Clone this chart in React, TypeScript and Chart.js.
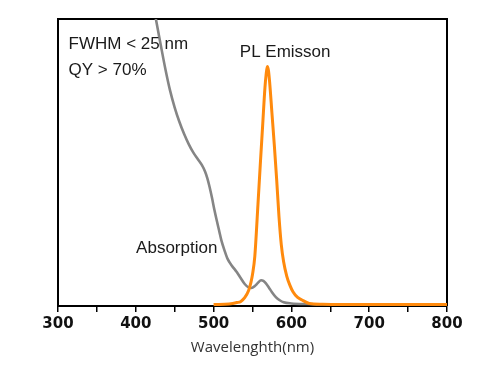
import React, { useEffect, useRef } from "react";
import { Chart, registerables } from "chart.js";

Chart.register(...registerables);

// Absorption spectrum (wavelength nm, relative intensity)
const absWavelength = [420, 426, 432, 438, 444, 450, 456, 462, 468, 474, 480, 485, 489, 492, 495, 498, 501, 504, 507, 510, 514, 518, 523, 530, 535, 540, 545, 549, 553, 557, 561, 564, 567, 571, 575, 580, 585, 590, 600, 620, 650, 700, 800];
const absValues = [108, 99.7, 91, 82.5, 75, 69, 64, 59.8, 56.2, 53.2, 50.8, 48.8, 46.6, 44.2, 41, 37.3, 33.2, 29.5, 26, 22.5, 19, 16, 13.8, 11.3, 9.2, 7.2, 6, 5.8, 6.5, 7.6, 8.5, 8.3, 7.5, 6, 4.3, 2.6, 1.5, 0.8, 0.4, 0.2, 0.1, 0, 0];

// PL emission spectrum
const plWavelength = [500, 520, 530, 535, 540, 545, 548, 550, 553, 557, 560, 563, 566, 567.5, 569, 570.5, 572, 575, 578, 581, 584, 587, 590, 594, 598, 602, 608, 615, 623, 640, 660, 800];
const plValues = [0, 0.2, 0.7, 1.1, 2.4, 4.9, 7.8, 10.5, 17, 35, 49, 62.5, 76, 80.5, 83.4, 82, 78, 67, 56, 44, 31, 21, 15, 10, 6.8, 4.5, 2.5, 1.4, 0.4, 0.1, 0, 0];

const xTicks = [300, 400, 500, 600, 700, 800];
const axisTitle = "Wavelenghth(nm)";

const noteTexts = ["FWHM < 25 nm", "QY > 70%", "PL Emisson", "Absorption"];
const noteX = [313.6, 313.6, 533.7, 400.4];
const noteY = [89.5, 80.3, 86.6, 18.1];

const framePlugin = {
  id: "frameAndNotes",
  beforeDatasetsDraw(chart: any) {
    const { ctx, chartArea } = chart;
    ctx.save();
    ctx.strokeStyle = "#000";
    ctx.lineWidth = 2;
    ctx.beginPath();
    ctx.moveTo(chartArea.left, chartArea.bottom);
    ctx.lineTo(chartArea.left, chartArea.top);
    ctx.lineTo(chartArea.right, chartArea.top);
    ctx.lineTo(chartArea.right, chartArea.bottom);
    ctx.stroke();
    ctx.restore();
  },
  afterDatasetsDraw(chart: any) {
    const { ctx } = chart;
    const xs = chart.scales.x;
    const ys = chart.scales.y;
    ctx.save();
    ctx.fillStyle = "#1a1a1a";
    ctx.font = "17px 'Liberation Sans', Arial, sans-serif";
    ctx.textAlign = "left";
    ctx.textBaseline = "alphabetic";
    noteTexts.forEach((t, i) => {
      ctx.fillText(t, xs.getPixelForValue(noteX[i]), ys.getPixelForValue(noteY[i]));
    });
    ctx.restore();
  },
};

export default function App() {
  const ref = useRef<HTMLCanvasElement | null>(null);
  useEffect(() => {
    if (!ref.current) return;
    const chart = new Chart(ref.current, {
      type: "line",
      data: {
        datasets: [
          {
            label: "PL Emission",
            data: plWavelength.map((x, i) => ({ x, y: plValues[i] })),
            borderColor: "#ff8a0d",
            borderWidth: 3,
            pointRadius: 0,
            cubicInterpolationMode: "monotone",
            fill: false,
          },
          {
            label: "Absorption",
            data: absWavelength.map((x, i) => ({ x, y: absValues[i] })),
            borderColor: "#858585",
            borderWidth: 2.6,
            pointRadius: 0,
            cubicInterpolationMode: "monotone",
            fill: false,
          },
        ],
      },
      options: {
        animation: false,
        responsive: false,
        devicePixelRatio: 1,
        layout: { padding: { left: 58, right: 54, top: 19, bottom: 0 } },
        plugins: { legend: { display: false }, tooltip: { enabled: false } },
        scales: {
          x: {
            type: "linear",
            min: 300,
            max: 800,
            afterFit: (s: any) => {
              s.height = 80;
            },
            afterBuildTicks: (s: any) => {
              const arr: any[] = [];
              for (let v = 300; v <= 800; v += 50) arr.push({ value: v });
              s.ticks = arr;
            },
            ticks: {
              autoSkip: false,
              maxRotation: 0,
              padding: 3,
              color: "#111",
              font: { family: "'DejaVu Sans'", size: 15, weight: "bold" },
              callback: (v: any) => (xTicks.includes(Number(v)) ? String(v) : ""),
            },
            grid: {
              display: true,
              drawOnChartArea: false,
              drawTicks: true,
              tickLength: 6,
              color: "#000",
              lineWidth: 1.5,
            },
            border: { display: true, color: "#000", width: 2 },
            title: {
              display: true,
              text: axisTitle,
              color: "#333",
              font: { family: "'Open Sans'", size: 15 },
              padding: { top: 0, bottom: 29 },
            },
          },
          y: {
            type: "linear",
            display: false,
            min: -0.5,
            max: 100,
          },
        },
      },
      plugins: [framePlugin],
    });
    return () => chart.destroy();
  }, []);
  return (
    <div style={{ position: "fixed", left: 0, top: 0, width: 501, height: 386, background: "#fff" }}>
      <canvas ref={ref} width={501} height={386} />
    </div>
  );
}
